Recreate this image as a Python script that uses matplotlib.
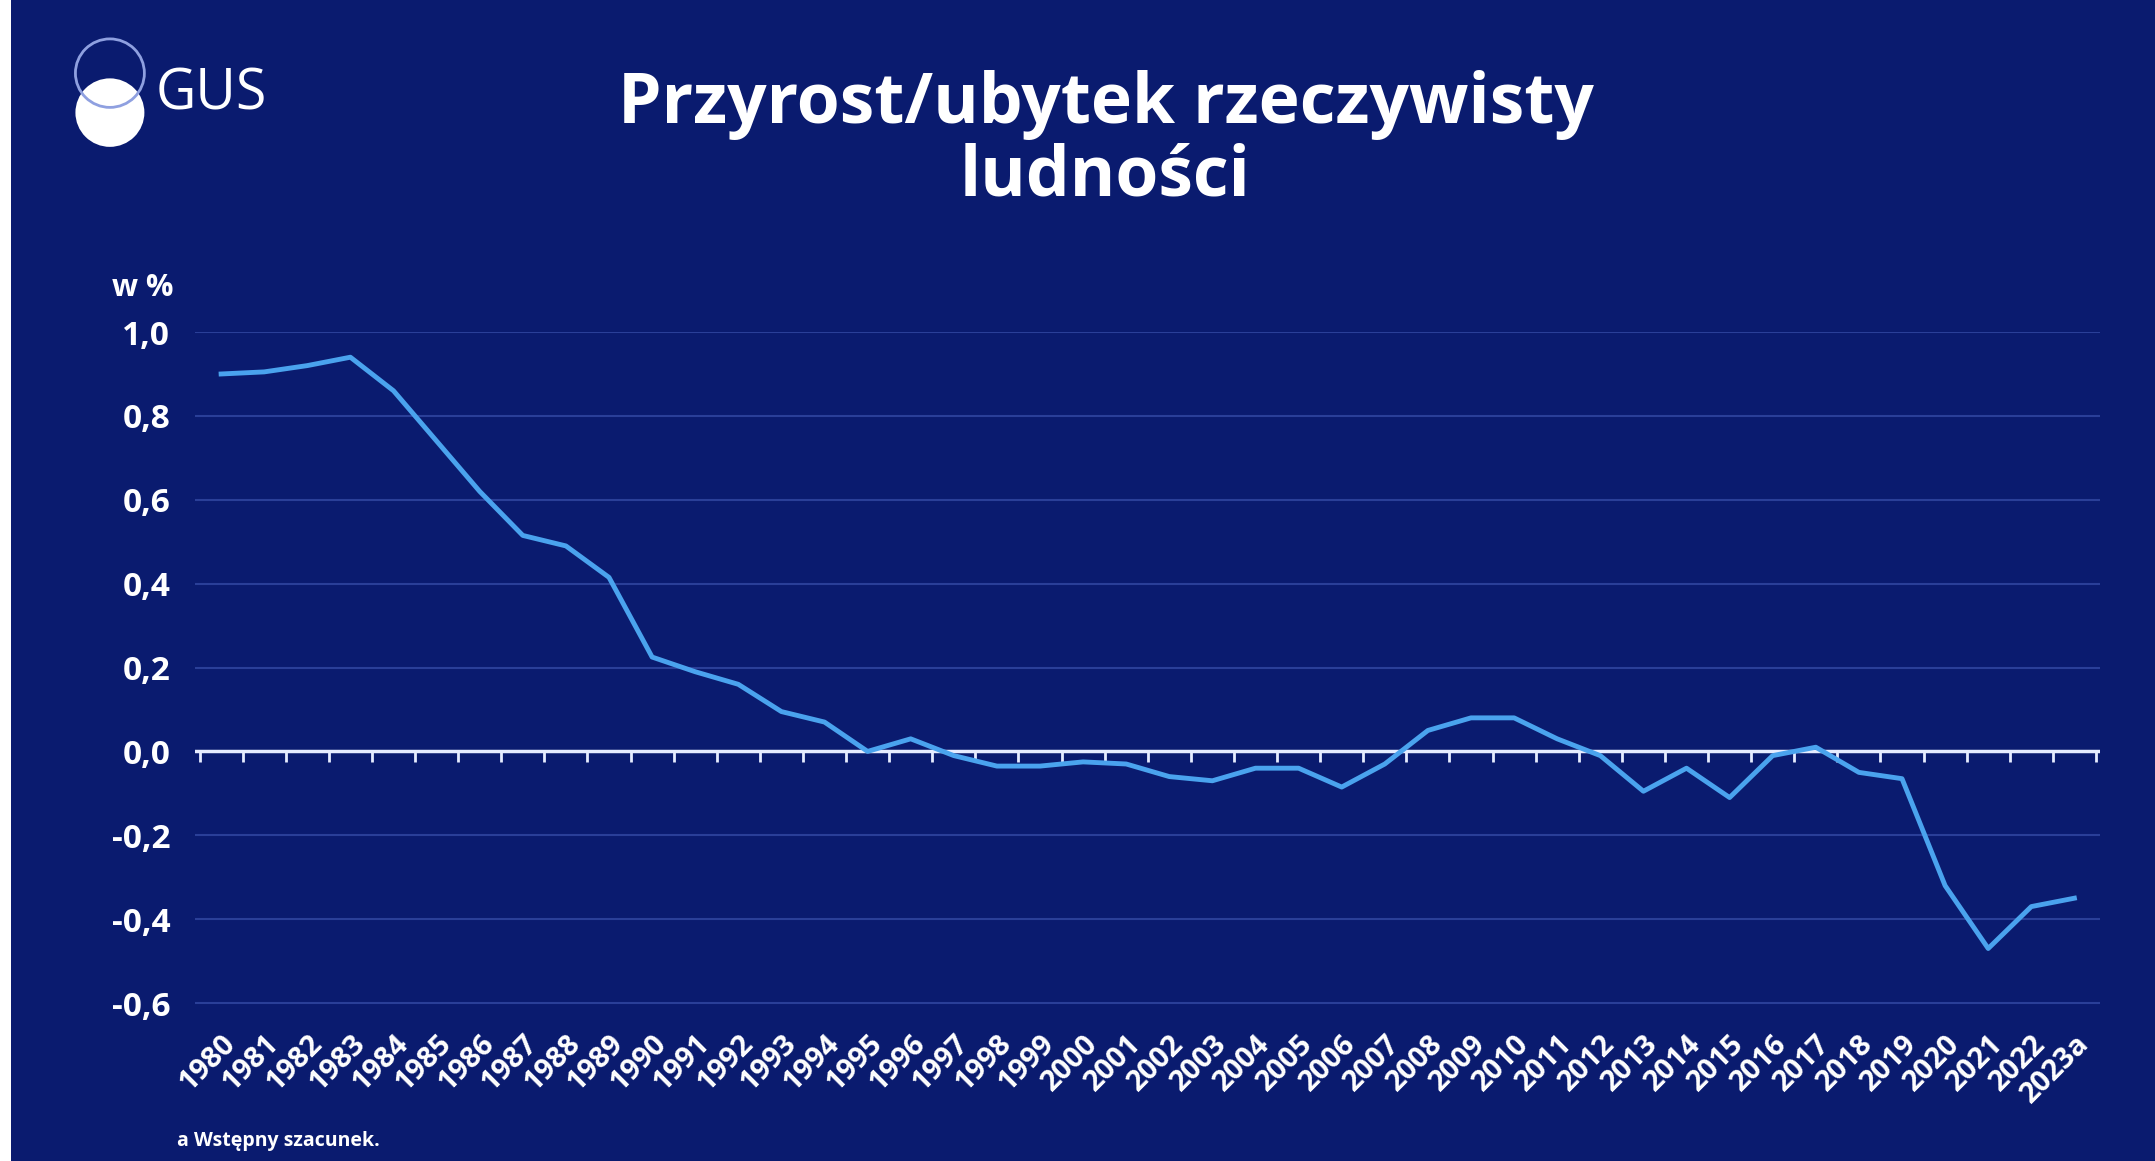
import matplotlib
matplotlib.use("Agg")
import matplotlib.pyplot as plt
from matplotlib.patches import Ellipse, Rectangle

YEARS = [str(y) for y in range(1980, 2023)] + ["2023a"]
VALUES = [0.90, 0.905, 0.92, 0.94, 0.86, 0.74, 0.62, 0.515, 0.49, 0.415,
          0.225, 0.19, 0.16, 0.095, 0.07, 0.00, 0.03, -0.01, -0.035, -0.035,
          -0.025, -0.03, -0.06, -0.07, -0.04, -0.04, -0.085, -0.03, 0.05, 0.08,
          0.08, 0.03, -0.01, -0.095, -0.04, -0.11, -0.01, 0.01, -0.05, -0.065,
          -0.32, -0.47, -0.37, -0.35]
Y_TICKS = [1.0, 0.8, 0.6, 0.4, 0.2, 0.0, -0.2, -0.4, -0.6]

BG = "#0a1b6f"
LINE = "#4aa3ee"
FONT = ["Open Sans", "DejaVu Sans"]

fig = plt.figure(figsize=(21.55, 11.61), dpi=100, facecolor=BG)
ax = fig.add_axes([0.0906, 0.118, 0.884, 0.596])
ax.set_facecolor(BG)

x = list(range(len(YEARS)))
for v in Y_TICKS:
    if v != 0:
        ax.axhline(v, color="#2a3f98", linewidth=1.5, zorder=1)
ax.axhline(0, color="#e6ecff", linewidth=2.5, zorder=2)
ax.plot(x, VALUES, color=LINE, linewidth=3.5, zorder=3)

ax.set_xlim(-0.6, len(YEARS) - 0.4)
ax.set_ylim(-0.65, 1.0)
for s in ax.spines.values():
    s.set_visible(False)

ax.set_yticks(Y_TICKS)
ax.set_yticklabels([f"{v:.1f}".replace(".", ",") for v in Y_TICKS],
                   color="white", fontsize=24, fontweight="bold", family=FONT)
ax.tick_params(axis="y", length=0, pad=18)

# small ticks under the zero line
tick_pos = [i - 0.5 for i in range(len(YEARS) + 1)]
ax.vlines(tick_pos, -0.025, 0, color="#e6ecff", linewidth=2, zorder=2)

ax.set_xticks(x)
ax.set_xticklabels(YEARS, rotation=45, ha="right", rotation_mode="anchor",
                   color="white", fontsize=21, fontweight="bold", family=FONT)
ax.tick_params(axis="x", length=0, pad=4)

fig.text(0.052, 0.745, "w %", color="white", fontsize=22, fontweight="bold", family=FONT)
fig.text(0.513, 0.878, "Przyrost/ubytek rzeczywisty\nludności", color="white",
         fontsize=50, fontweight="bold", ha="center", va="center",
         linespacing=1.05, family=FONT)
fig.text(0.082, 0.013, "a Wstępny szacunek.", color="white", fontsize=14,
         fontweight="bold", family=FONT)

# GUS logo
fig.patches.append(Ellipse((0.051, 0.903), 0.032, 0.059, transform=fig.transFigure,
                           facecolor="white", edgecolor="none"))
fig.patches.append(Ellipse((0.051, 0.937), 0.032, 0.059, transform=fig.transFigure,
                           facecolor="none", edgecolor="#8fa0e0", linewidth=2))
fig.text(0.072, 0.918, "GUS", color="white", fontsize=40, va="center", family=FONT)

# white border stripe at left
fig.patches.append(Rectangle((0, 0), 0.005, 1, transform=fig.transFigure,
                             facecolor="white", edgecolor="none"))

fig.savefig("out.png", dpi=100, facecolor=BG)
